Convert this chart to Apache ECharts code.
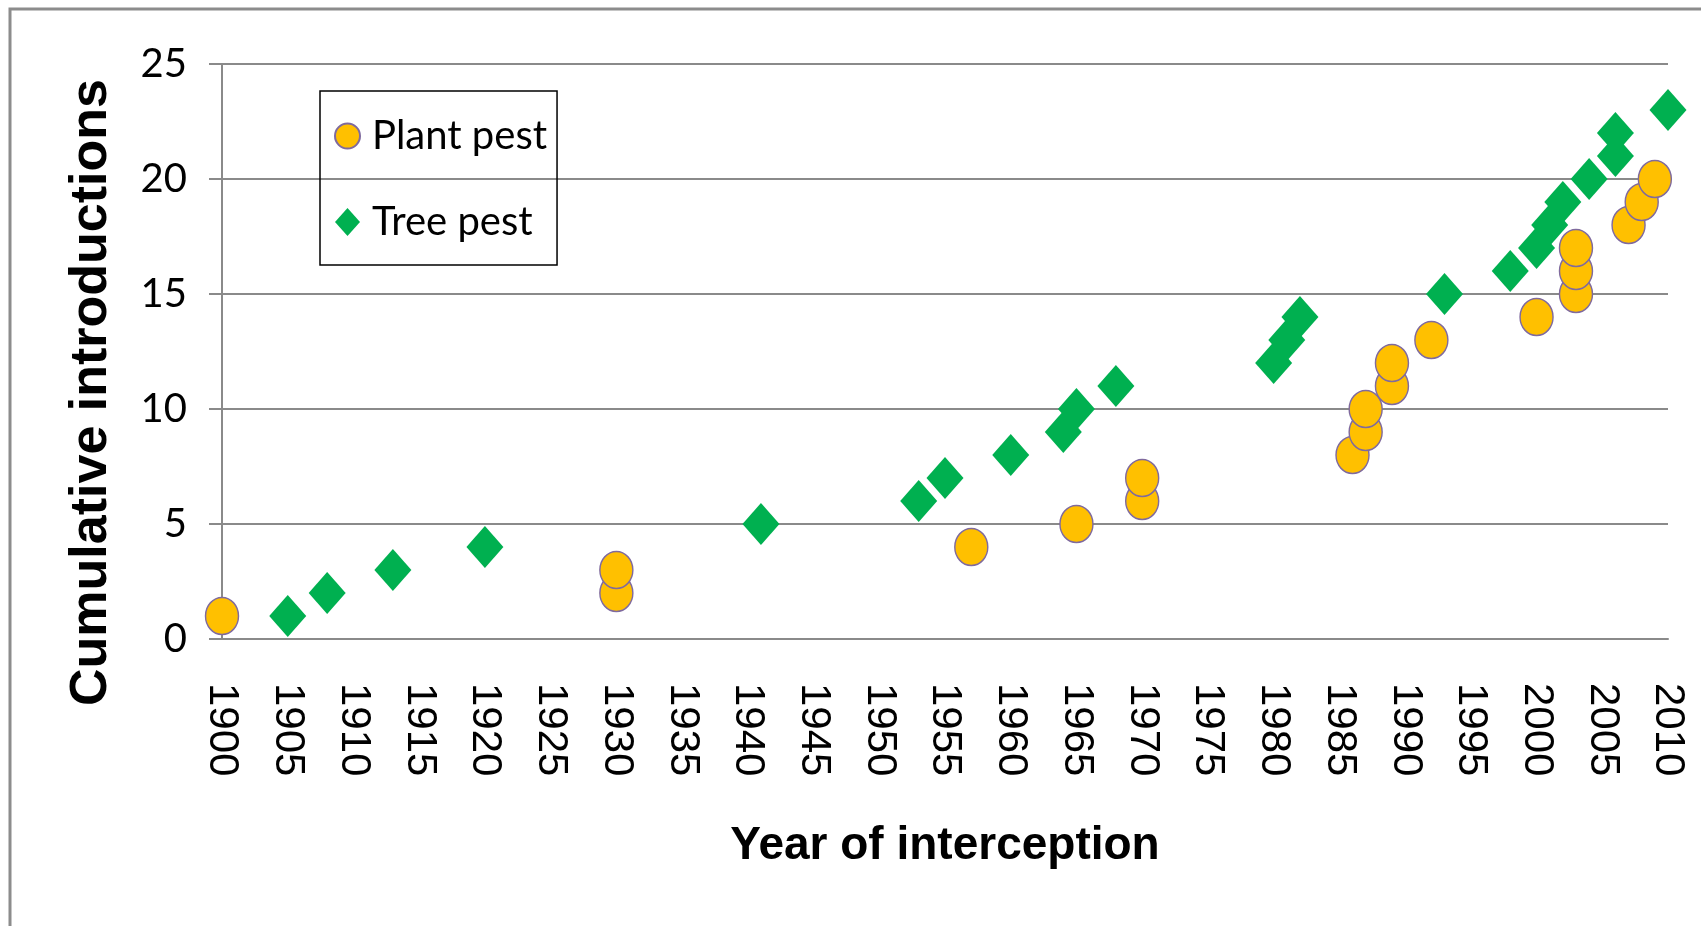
<!DOCTYPE html>
<html>
<head>
<meta charset="utf-8">
<script src="https://cdn.jsdelivr.net/npm/echarts@6/dist/echarts.min.js"></script>
<style>
  html, body { margin: 0; padding: 0; background: #fff; }
  #chart { width: 1701px; height: 926px; }
</style>
</head>
<body>
<div id="chart"></div>
<script>
// year of interception / cumulative count
var plantYears  = [1900, 1930, 1930, 1957, 1965, 1970, 1970, 1986, 1987, 1987, 1989, 1989, 1992, 2000, 2003, 2003, 2003, 2007, 2008, 2009];
var plantCounts = [1, 2, 3, 4, 5, 6, 7, 8, 9, 10, 11, 12, 13, 14, 15, 16, 17, 18, 19, 20];
var treeYears   = [1905, 1908, 1913, 1920, 1941, 1953, 1955, 1960, 1964, 1965, 1968, 1980, 1981, 1982, 1993, 1998, 2000, 2001, 2002, 2004, 2006, 2006, 2010];
var treeCounts  = [1, 2, 3, 4, 5, 6, 7, 8, 9, 10, 11, 12, 13, 14, 15, 16, 17, 18, 19, 20, 21, 22, 23];

var seriesNames = ['Plant pest', 'Tree pest'];

function pairs(xs, ys) {
  var out = [];
  for (var i = 0; i < xs.length; i++) {
    out.push([xs[i], ys[i]]);
  }
  return out;
}

var ellipse = 'path://M0,1 A1,1 0 1,1 2,1 A1,1 0 1,1 0,1 Z';
var gridGray = '#8a8a8a';

var chart = echarts.init(document.getElementById('chart'));

var option = {
  animation: false,
  backgroundColor: '#fff',
  graphic: [{
    type: 'rect',
    shape: { x: 10, y: 9, width: 1800, height: 1000 },
    style: { fill: 'none', stroke: '#8c8c8c', lineWidth: 3 },
    silent: true
  }],
  grid: { left: 222, right: 33, top: 64, bottom: 287 },
  legend: {
    orient: 'vertical',
    left: 320,
    top: 91,
    padding: [25, 10, 23, 14],
    itemGap: 46,
    itemWidth: 25,
    itemHeight: 28,
    borderColor: '#000',
    borderWidth: 1.5,
    textStyle: { fontFamily: 'Lato', fontSize: 40, color: '#000', padding: [0, 0, 0, 7] },
    data: [
      { name: seriesNames[0], icon: ellipse },
      { name: seriesNames[1], icon: 'diamond' }
    ]
  },
  xAxis: {
    type: 'value',
    min: 1900,
    max: 2010,
    interval: 5,
    name: 'Year of interception',
    nameLocation: 'middle',
    nameGap: 184,
    nameTextStyle: { fontFamily: 'Liberation Sans', fontWeight: 'bold', fontSize: 46, color: '#000' },
    axisLine: { show: true, lineStyle: { color: gridGray, width: 2 } },
    axisTick: { show: false },
    splitLine: { show: false },
    axisLabel: {
      rotate: -90,
      margin: 44,
      fontFamily: 'Liberation Sans',
      fontSize: 42,
      color: '#000',
      formatter: function (v) { return String(v); }
    }
  },
  yAxis: {
    type: 'value',
    min: 0,
    max: 25,
    interval: 5,
    name: 'Cumulative introductions',
    nameLocation: 'middle',
    nameGap: 104,
    nameTextStyle: {
      fontFamily: 'Liberation Sans', fontWeight: 'bold', fontSize: 52, color: '#000',
      padding: [0, 82, 0, 0]
    },
    axisLine: { show: true, lineStyle: { color: gridGray, width: 2 } },
    axisTick: { show: true, inside: false, length: 13, lineStyle: { color: gridGray, width: 2 } },
    splitLine: { show: true, lineStyle: { color: gridGray, width: 2 } },
    axisLabel: { margin: 35, fontFamily: 'Lato', fontSize: 40, color: '#000' }
  },
  series: [{
    name: seriesNames[0],
    type: 'scatter',
    symbol: ellipse,
    symbolSize: [33, 37],
    itemStyle: { color: '#FFC000', borderColor: '#7F6A9E', borderWidth: 1.5, opacity: 1 },
    data: pairs(plantYears, plantCounts)
  }, {
    name: seriesNames[1],
    type: 'scatter',
    symbol: 'diamond',
    symbolSize: [37, 42],
    itemStyle: { color: '#00B050', opacity: 1 },
    data: pairs(treeYears, treeCounts)
  }]
};

chart.setOption(option);
</script>
</body>
</html>
